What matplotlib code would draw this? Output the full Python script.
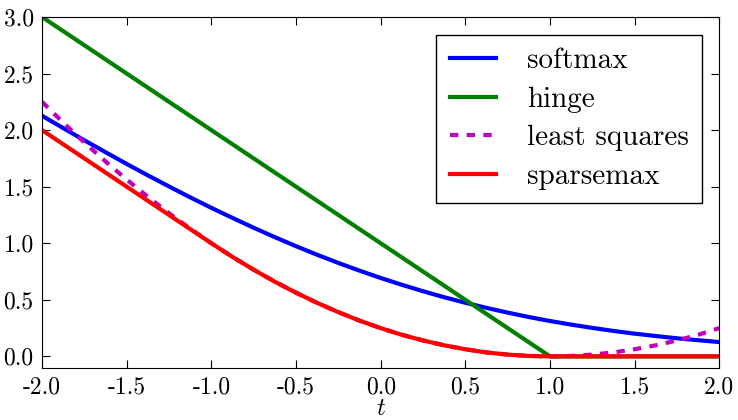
import matplotlib
matplotlib.use('Agg')
import matplotlib.pyplot as plt

plt.rcParams['font.family'] = 'serif'
plt.rcParams['font.serif'] = ['cmr10', 'DejaVu Serif']
plt.rcParams['mathtext.fontset'] = 'cm'
plt.rcParams['axes.unicode_minus'] = False
plt.rcParams['axes.formatter.use_mathtext'] = True

# valores
t = [-2.0, -1.875, -1.75, -1.625, -1.5, -1.375, -1.25, -1.125, -1.0,
     -0.875, -0.75, -0.625, -0.5, -0.375, -0.25, -0.125, 0.0,
     0.125, 0.25, 0.375, 0.5, 0.625, 0.75, 0.875, 1.0,
     1.125, 1.25, 1.375, 1.5, 1.625, 1.75, 1.875, 2.0]

softmax = [2.127, 2.018, 1.910, 1.805, 1.701, 1.600, 1.502, 1.406, 1.313,
           1.224, 1.137, 1.054, 0.974, 0.898, 0.826, 0.758, 0.693,
           0.633, 0.576, 0.523, 0.474, 0.429, 0.387, 0.348, 0.313,
           0.281, 0.252, 0.225, 0.201, 0.180, 0.160, 0.143, 0.127]

hinge_t = [-2.0, 1.0, 2.0]
hinge = [3.0, 0.0, 0.0]

least_squares = [2.250, 2.066, 1.891, 1.723, 1.563, 1.410, 1.266, 1.129, 1.000,
                 0.879, 0.766, 0.660, 0.563, 0.473, 0.391, 0.316, 0.250,
                 0.191, 0.141, 0.098, 0.063, 0.035, 0.016, 0.004, 0.000,
                 0.004, 0.016, 0.035, 0.063, 0.098, 0.141, 0.191, 0.250]

sparsemax = [2.000, 1.875, 1.750, 1.625, 1.500, 1.375, 1.250, 1.125, 1.000,
             0.879, 0.766, 0.660, 0.563, 0.473, 0.391, 0.316, 0.250,
             0.191, 0.141, 0.098, 0.063, 0.035, 0.016, 0.004, 0.000,
             0.0, 0.0, 0.0, 0.0, 0.0, 0.0, 0.0, 0.0]

fig = plt.figure(figsize=(7.38, 4.2), dpi=100)
ax = fig.add_subplot(111)
fig.subplots_adjust(left=0.057, right=0.9747, top=0.9595, bottom=0.1245)

ax.plot(t, softmax, color=(0, 0, 1), lw=3, label='softmax')
ax.plot(hinge_t, hinge, color=(0, 0.5, 0), lw=3, label='hinge')
ax.plot(t, least_squares, color=(0.75, 0, 0.75), lw=3, dashes=(2, 2), label='least squares')
ax.plot(t, sparsemax, color=(1, 0, 0), lw=3, label='sparsemax')

ax.set_xlim(-2, 2)
ax.set_ylim(-0.1, 3.0)
ax.set_xticks([-2.0, -1.5, -1.0, -0.5, 0.0, 0.5, 1.0, 1.5, 2.0])
ax.set_xticklabels(['-2.0', '-1.5', '-1.0', '-0.5', '0.0', '0.5', '1.0', '1.5', '2.0'])
ax.set_yticks([0.0, 0.5, 1.0, 1.5, 2.0, 2.5, 3.0])
ax.set_yticklabels(['0.0', '0.5', '1.0', '1.5', '2.0', '2.5', '3.0'])
ax.tick_params(direction='in', top=True, right=True, labelsize=17, length=6, pad=6)
ax.set_xlabel('$t$', fontsize=18, labelpad=0)

leg = ax.legend(loc='upper right', fontsize=21, fancybox=False, edgecolor='black',
                framealpha=1, handlelength=1.6, handletextpad=1.05, borderpad=0.45,
                labelspacing=0.42, borderaxespad=0.6)
leg.get_frame().set_linewidth(1)

plt.savefig('out.png', dpi=100)
